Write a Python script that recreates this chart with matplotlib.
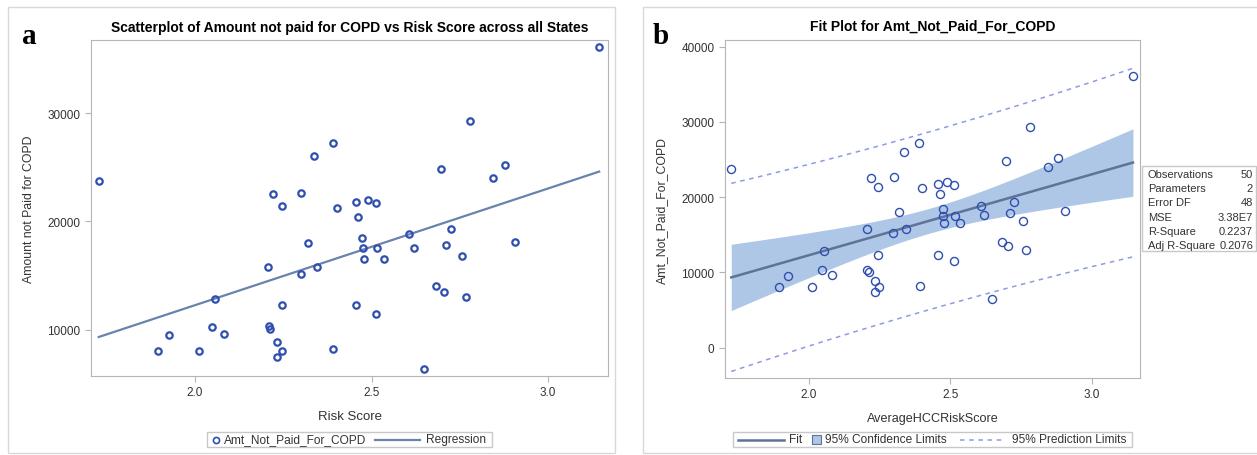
import numpy as np
import matplotlib
matplotlib.use("Agg")
import matplotlib.pyplot as plt
from matplotlib.lines import Line2D
from matplotlib.patches import Rectangle

plt.rcParams['font.family'] = ['Liberation Sans', 'DejaVu Sans']

# data: 50 states
risk = [1.727, 2.390, 2.338, 2.222, 2.300, 2.246, 2.401, 2.319, 2.206, 2.344,
        2.299, 2.056, 2.246, 2.048, 1.927, 2.082, 2.208, 2.212, 1.895, 2.012,
        2.233, 2.247, 2.233, 2.392, 3.145, 2.780, 2.696, 2.879, 2.845, 2.457,
        2.490, 2.513, 2.463, 2.473, 2.607, 2.725, 2.476, 2.516, 2.621, 2.711,
        2.906, 2.479, 2.536, 2.757, 2.683, 2.705, 2.769, 2.457, 2.513, 2.648]
amount = [23760, 27210, 26070, 22530, 22650, 21390, 21240, 18030, 15760, 15760,
          15170, 12810, 12310, 10250, 9540, 9600, 10300, 10100, 8060, 8010,
          8840, 8010, 7450, 8250, 36130, 29300, 24810, 25210, 24040, 21760,
          22000, 21670, 20430, 18470, 18840, 19330, 17520, 17520, 17570, 17850,
          18100, 16560, 16560, 16810, 14040, 13480, 13020, 12250, 11450, 6400]

stat_names = ['Observations', 'Parameters', 'Error DF', 'MSE', 'R-Square', 'Adj R-Square']
stat_values = ['50', '2', '48', '3.38E7', '0.2237', '0.2076']

x = np.array(risk)
y = np.array(amount, dtype=float)
n = len(x)

# least squares fit and 95% bands
slope, intercept = np.polyfit(x, y, 1)
resid = y - (intercept + slope * x)
mse = np.sum(resid ** 2) / (n - 2)
sxx = np.sum((x - x.mean()) ** 2)
t_crit = 2.0106  # t(0.975, 48)
xg = np.linspace(x.min(), x.max(), 200)
yg = intercept + slope * xg
se_mean = np.sqrt(mse * (1.0 / n + (xg - x.mean()) ** 2 / sxx))
se_pred = np.sqrt(mse * (1 + 1.0 / n + (xg - x.mean()) ** 2 / sxx))

marker_col = '#2F4FAF'
reg_col = '#6A82AE'
fit_col = '#5F7399'
band_col = '#AFC7E6'
pred_col = '#8E9BE2'
frame_col = '#B5B5B5'
text_col = '#333333'

W, H = 1257, 456
fig = plt.figure(figsize=(W / 100, H / 100), dpi=100)


def fx(p):
    return p / W


def fy(p):
    return 1 - p / H


def box(x0, y0, x1, y1, col):
    fig.add_artist(Rectangle((fx(x0), fy(y1)), (x1 - x0) / W, (y1 - y0) / H,
                             transform=fig.transFigure, fill=False, edgecolor=col, lw=1))


def key_line(x0, x1, yp, **kw):
    fig.add_artist(Line2D([fx(x0), fx(x1)], [fy(yp), fy(yp)], transform=fig.transFigure, **kw))


def key_text(xp, yp, s):
    fig.text(fx(xp), fy(yp), s, fontsize=8.6, color=text_col, va='center', ha='left')


# panel borders
box(8, 8, 615, 454, '#D8D8D8')
box(643, 8, 1262, 454, '#D8D8D8')


def style_axes(ax):
    for s in ax.spines.values():
        s.set_color(frame_col)
    ax.tick_params(direction='out', length=4, color=frame_col, labelcolor=text_col,
                   labelsize=8.5)
    ax.set_xlim(1.705, 3.17)
    ax.set_xticks([2.0, 2.5, 3.0])
    ax.set_xticklabels(['2.0', '2.5', '3.0'])


# ---- panel a ----
ax1 = fig.add_axes([fx(91), fy(377), 517 / W, 336 / H])
style_axes(ax1)
ax1.plot(x, y, 'o', ms=4.6, mfc='none', mec=marker_col, mew=1.6, zorder=3)
ax1.plot(xg, yg, color=reg_col, lw=1.6)
ax1.set_ylim(5725, 36750)
ax1.set_yticks([10000, 20000, 30000])
ax1.set_xlabel('Risk Score', fontsize=9.5, color=text_col, labelpad=8)
ax1.set_ylabel('Amount not Paid for COPD', fontsize=8.8, color=text_col, labelpad=9)
ax1.set_title('Scatterplot of Amount not paid for COPD vs Risk Score across all States',
              fontsize=10, fontweight='bold', pad=6.5)
fig.text(fx(22), fy(43.5), 'a', family='Liberation Serif', fontweight='bold',
         fontsize=21, va='baseline')

# legend a
box(207, 433, 492, 448, '#C8C8C8')
fig.add_artist(Line2D([fx(216)], [fy(440.5)], transform=fig.transFigure, marker='o', ms=4.4,
                      mfc='none', mec=marker_col, mew=1.2))
key_text(224, 440.5, 'Amt_Not_Paid_For_COPD')
key_line(375, 420, 440.5, color=reg_col, lw=1.6)
key_text(426, 440.5, 'Regression')

# ---- panel b ----
ax2 = fig.add_axes([fx(725), fy(379), 415 / W, 338 / H])
style_axes(ax2)
ax2.fill_between(xg, yg - t_crit * se_mean, yg + t_crit * se_mean, color=band_col,
                 lw=0, zorder=1)
ax2.plot(xg, yg, color=fit_col, lw=1.8, zorder=2)
ax2.plot(xg, yg - t_crit * se_pred, color=pred_col, lw=1.1, ls=(0, (3, 3)), zorder=2)
ax2.plot(xg, yg + t_crit * se_pred, color=pred_col, lw=1.1, ls=(0, (3, 3)), zorder=2)
ax2.plot(x, y, 'o', ms=5.8, mfc='none', mec=marker_col, mew=1.0, zorder=3)
ax2.set_ylim(-4050, 40900)
ax2.set_yticks([0, 10000, 20000, 30000, 40000])
ax2.set_xlabel('AverageHCCRiskScore', fontsize=9.1, color=text_col, labelpad=8)
ax2.set_ylabel('Amt_Not_Paid_For_COPD', fontsize=8.8, color=text_col, labelpad=10)
ax2.set_title('Fit Plot for Amt_Not_Paid_For_COPD', fontsize=10, fontweight='bold', pad=7.5)
fig.text(fx(653), fy(44), 'b', family='Liberation Serif', fontweight='bold',
         fontsize=21, va='baseline')

# legend b
box(733, 433, 1132, 448, '#C8C8C8')
key_line(738, 784, 440.5, color=fit_col, lw=1.8)
key_text(789, 440.5, 'Fit')
fig.add_artist(Rectangle((fx(812), fy(445)), 9 / W, 9 / H, transform=fig.transFigure,
                         facecolor=band_col, edgecolor=fit_col, lw=0.8))
key_text(825, 440.5, '95% Confidence Limits')
key_line(960, 1005, 440.5, color=pred_col, lw=1.1, ls=(0, (3, 3)))
key_text(1012, 440.5, '95% Prediction Limits')

# fit statistics table
box(1142, 167, 1256, 252, '#C8C8C8')
for i, (nm, val) in enumerate(zip(stat_names, stat_values)):
    yy = fy(175 + 14.2 * i)
    fig.text(fx(1148), yy, nm, fontsize=8, color=text_col, va='center')
    fig.text(fx(1253), yy, val, fontsize=8, color=text_col, va='center', ha='right')

fig.savefig('out.png', dpi=100)
